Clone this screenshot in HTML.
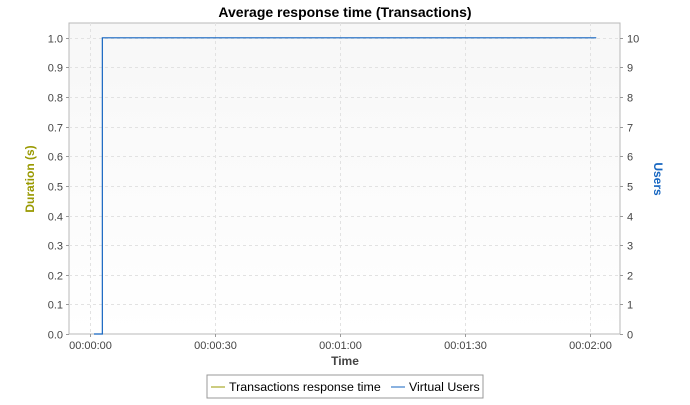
<!DOCTYPE html>
<html><head><meta charset="utf-8"><style>
body{margin:0;background:#fff;font-family:"Liberation Sans",sans-serif}
</style></head><body>
<svg id="c" width="690" height="400" xmlns="http://www.w3.org/2000/svg" font-family="Liberation Sans, sans-serif">
<defs><linearGradient id="bg" x1="0" y1="0" x2="0" y2="1"><stop offset="0" stop-color="#f7f7f7"/><stop offset="1" stop-color="#ffffff"/></linearGradient></defs>
<text x="345" y="17" text-anchor="middle" font-size="14" font-weight="bold" fill="#000">Average response time (Transactions)</text>
<rect x="69" y="23" width="551" height="311" fill="url(#bg)" stroke="#b8b8b8"/>
<g id="grid"></g><g id="axes"></g><g id="series"></g>
<text transform="translate(34,179) rotate(-90)" text-anchor="middle" font-size="12" font-weight="bold" fill="#999900">Duration (s)</text>
<text transform="translate(654,179) rotate(90)" text-anchor="middle" font-size="12" font-weight="bold" fill="#1565c0">Users</text>
<text x="345" y="365" text-anchor="middle" font-size="12" font-weight="bold" fill="#444">Time</text>
<g>
<rect x="207" y="375" width="276" height="23" fill="#fff" stroke="#999"/>
<g><line x1="211" y1="387" x2="225" y2="387" stroke="#999900"/><text x="229" y="391" font-size="12.4" fill="#000">Transactions response time</text></g>
<g><line x1="391" y1="387" x2="405" y2="387" stroke="#1565c0"/><text x="409" y="391" font-size="12.4" fill="#000">Virtual Users</text></g>
</g>
</svg>
<script>
const yTicks=[0,0.1,0.2,0.3,0.4,0.5,0.6,0.7,0.8,0.9,1.0];
const y2Ticks=[0,1,2,3,4,5,6,7,8,9,10];
const xTicks=[0,30,60,90,120];
const xTickLabels=["00:00:00","00:00:30","00:01:00","00:01:30","00:02:00"];
const userTimes=[1,3,3,121.5];
const userValues=[0,0,10,10];
const L=69,R=620,T=23,B=334;
const xMin=-5,xMax=127.2,yMax=1.05,y2Max=10.5;
const sx=t=>L+(t-xMin)/(xMax-xMin)*(R-L);
const sy=v=>B-v/yMax*(B-T);
const sy2=v=>B-v/y2Max*(B-T);
const NS="http://www.w3.org/2000/svg";
function mk(tag,attrs,parent,txt){const e=document.createElementNS(NS,tag);for(const k in attrs)e.setAttribute(k,attrs[k]);if(txt!==undefined)e.textContent=txt;document.getElementById(parent).appendChild(e);return e;}
yTicks.forEach((v,i)=>{const y=Math.round(sy(v))+0.5;
 if(v>0){const g=mk('line',{x1:L,x2:R,y1:y,y2:y,stroke:'#e2e2e2','stroke-dasharray':'3,3'},'grid');}
 const t=mk('text',{x:L-6,y:y+4,'text-anchor':'end','font-size':'11',fill:'#444'},'axes',v.toFixed(1));
 mk('line',{x1:L-3,x2:L,y1:y,y2:y,stroke:'#999'},'axes');
});
y2Ticks.forEach(v=>{const y=Math.round(sy2(v))+0.5;
 const t=mk('text',{x:R+7,y:y+4,'font-size':'11',fill:'#444'},'axes',String(v));
 mk('line',{x1:R,x2:R+3,y1:y,y2:y,stroke:'#999'},'axes');
});
xTicks.forEach((v,i)=>{const x=Math.round(sx(v))+0.5;
 const g=mk('line',{x1:x,x2:x,y1:T,y2:B,stroke:'#e2e2e2','stroke-dasharray':'3,3'},'grid');
 mk('line',{x1:x,x2:x,y1:B,y2:B+3,stroke:'#999'},'axes');
 const t=mk('text',{x:x,y:B+15,'text-anchor':'middle','font-size':'11',fill:'#444'},'axes',xTickLabels[i]);
});
const pts=userTimes.map((t,i)=>sx(t)+','+sy2(userValues[i])).join(' ');
const pl=mk('polyline',{points:pts,fill:'none',stroke:'#1565c0','stroke-width':'1.2'},'series');


</script>
</body></html>
